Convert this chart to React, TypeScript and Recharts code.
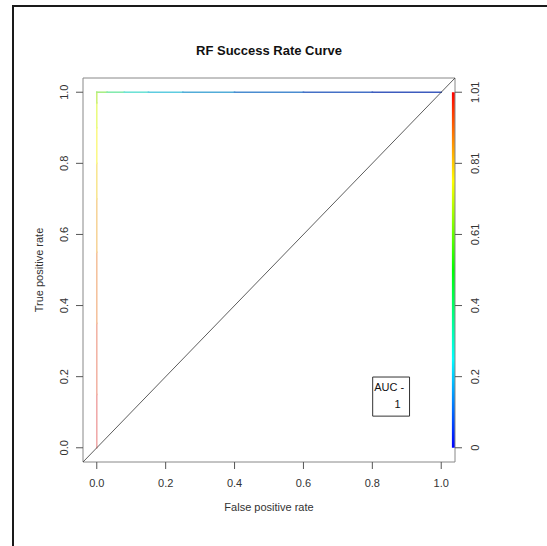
import { ComposedChart, Line, XAxis, YAxis, ReferenceArea } from 'recharts'

// ROC curve points (fpr, tpr) and the colour of each segment between them (coloured by cutoff)
const rocFpr = [0, 0, 0, 0, 0, 0, 0, 0, 0, 0.03, 0.08, 0.15, 0.25, 0.4, 0.6, 0.8, 1.0]
const rocTpr = [0, 0.15, 0.35, 0.55, 0.7, 0.8, 0.9, 0.97, 1, 1, 1, 1, 1, 1, 1, 1, 1]
const rocColors = ['#f0aaaa', '#f2b4a6', '#f4c29e', '#f6d49a', '#f8e692', '#fbf888', '#eafb80', '#ccf07a', '#a8ee86', '#84eaae', '#6ee2d6', '#5ecce0', '#52acd8', '#4a8cd0', '#4470c6', '#3e5cbe']
const chanceX = [-0.04, 1.04]
const xTicks = [0, 0.2, 0.4, 0.6, 0.8, 1.0]
const yTicks = [0, 0.2, 0.4, 0.6, 0.8, 1.0]
const cutoffLabels = ['0', '0.2', '0.4', '0.61', '0.81', '1.01']
const colorbarStops = [{ at: 0, c: '#0000ff' }, { at: 0.25, c: '#00ffff' }, { at: 0.5, c: '#00ff00' }, { at: 0.75, c: '#ffff00' }, { at: 1, c: '#ff0000' }]
const aucLabel = ['AUC -', '1']

const font = '"Liberation Sans", Arial, sans-serif'
const ink = '#333'
const segments = rocColors.map((color, i) => ({ color, data: [{ fpr: rocFpr[i], tpr: rocTpr[i] }, { fpr: rocFpr[i + 1], tpr: rocTpr[i + 1] }] }))
const chance = chanceX.map(v => ({ fpr: v, tpr: v }))

const XTick = ({ x, y, payload }: any) => <text x={x} y={y + 16} textAnchor="middle" fontSize={11} fill={ink} fontFamily={font}>{payload.value.toFixed(1)}</text>
const YTick = ({ x, y, payload }: any) => <text transform={`translate(${x - 6.5},${y}) rotate(-90)`} textAnchor="middle" fontSize={11} fill={ink} fontFamily={font}>{payload.value.toFixed(1)}</text>
const CbTick = ({ x, y, payload }: any) => <text transform={`translate(${x + 15},${y}) rotate(-90)`} textAnchor="middle" fontSize={11} fill={ink} fontFamily={font}>{cutoffLabels[yTicks.indexOf(payload.value)]}</text>

export default function App() {
  return <div style={{ position: 'absolute', left: 0, top: 0, width: 547, height: 546, overflow: 'hidden', background: '#fff', fontFamily: font }}>
    <div style={{ position: 'absolute', left: 12, top: 5, width: 600, height: 600, border: '2.5px solid #1a1a1a' }} />
    <div style={{ position: 'absolute', left: 83, width: 372, top: 43, textAlign: 'center', fontSize: 13, fontWeight: 'bold', color: '#111' }}>RF Success Rate Curve</div>
    <div style={{ position: 'absolute', left: 0, top: 0 }}>
      <ComposedChart width={547} height={546} margin={{ top: 78, right: 0, bottom: 0, left: 0 }}>
        <defs>
          <linearGradient id="cbar" x1="0" y1="1" x2="0" y2="0">
            {colorbarStops.map(s => <stop key={s.at} offset={s.at} stopColor={s.c} />)}
          </linearGradient>
        </defs>
        <XAxis dataKey="fpr" type="number" domain={[-0.04, 1.04]} ticks={xTicks} allowDataOverflow height={84} axisLine={false} tickSize={7} tickLine={{ stroke: '#555' }} tick={<XTick />}
          label={{ value: 'False positive rate', position: 'insideBottom', offset: 35, fontSize: 11, fill: ink, fontFamily: font }} />
        <YAxis type="number" domain={[-0.04, 1.04]} ticks={yTicks} allowDataOverflow width={83} axisLine={false} tickSize={7} tickLine={{ stroke: '#555' }} tick={<YTick />}
          label={{ value: 'True positive rate', angle: -90, position: 'insideLeft', offset: 39, fontSize: 11, fill: ink, fontFamily: font, style: { textAnchor: 'middle' } }} />
        <YAxis yAxisId="cb" orientation="right" type="number" domain={[-0.04, 1.04]} ticks={yTicks} allowDataOverflow width={92} axisLine={false} tickSize={7} tickLine={{ stroke: '#555' }} tick={<CbTick />} />
        <ReferenceArea x1={1.031} x2={1.04} y1={0} y2={1} fill="url(#cbar)" fillOpacity={1} stroke="none" ifOverflow="visible" />
        {segments.map((s, i) => <Line key={i} data={s.data} dataKey="tpr" stroke={s.color} strokeWidth={1.6} dot={false} activeDot={false} isAnimationActive={false} strokeLinecap="square" />)}
        <Line data={chance} dataKey="tpr" stroke="#333" strokeWidth={0.8} dot={false} activeDot={false} isAnimationActive={false} />
        <ReferenceArea x1={0.801} x2={0.908} y1={0.089} y2={0.199} fill="#fff" fillOpacity={1} stroke="#333" strokeWidth={1}
          label={({ viewBox }: any) => <g fontFamily={font} fontSize={11} fill="#111">
            <text x={viewBox.x + 1.5} y={viewBox.y + 14}>{aucLabel[0]}</text>
            <text x={viewBox.x + viewBox.width - 9} y={viewBox.y + 31} textAnchor="end">{aucLabel[1]}</text>
          </g>} />
        <ReferenceArea x1={-0.04} x2={1.04} y1={-0.04} y2={1.04} fill="none" stroke="#888" strokeWidth={1} ifOverflow="visible" />
      </ComposedChart>
    </div>
  </div>
}
